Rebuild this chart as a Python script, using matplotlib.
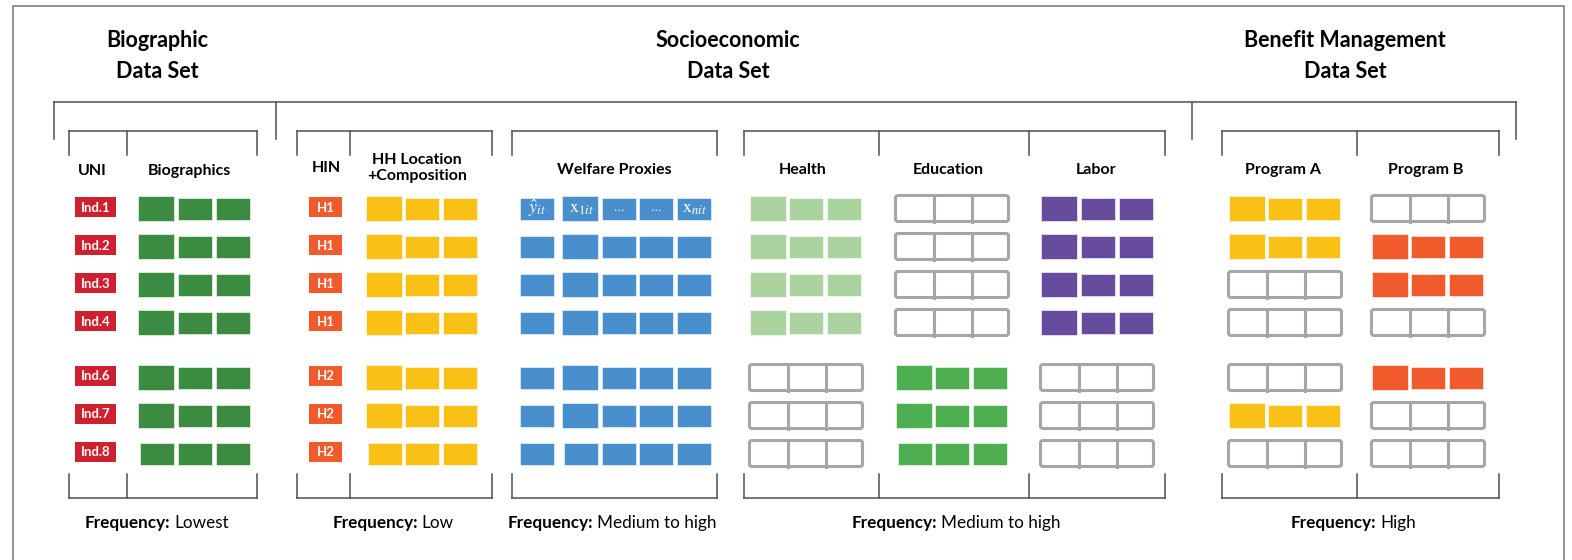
import matplotlib
matplotlib.use('Agg')
import matplotlib.pyplot as plt
from matplotlib.patches import Rectangle, FancyBboxPatch

plt.rcParams['mathtext.fontset'] = 'stix'
FONT = 'Lato'

# ---------------- data ----------------
dataset_titles = ['Biographic\nData Set', 'Socioeconomic\nData Set', 'Benefit Management\nData Set']
uni_labels = ['Ind.1', 'Ind.2', 'Ind.3', 'Ind.4', 'Ind.6', 'Ind.7', 'Ind.8']
hin_labels = ['H1', 'H1', 'H1', 'H1', 'H2', 'H2', 'H2']
column_headers = ['UNI', 'Biographics', 'HIN', 'HH Location\n+Composition', 'Welfare Proxies',
                  'Health', 'Education', 'Labor', 'Program A', 'Program B']
frequency_labels = ['Lowest', 'Low', 'Medium to high', 'Medium to high', 'High']
welfare_cell_labels = [r'$\hat{y}_{it}$', r'$\mathrm{x}_{1\mathit{it}}$', '...', '...', r'$\mathrm{x}_{\mathit{nit}}$']

# 1 = record present (filled cells), 0 = no record (empty outline)
biographics_filled = [1, 1, 1, 1, 1, 1, 1]
hh_filled = [1, 1, 1, 1, 1, 1, 1]
welfare_filled = [1, 1, 1, 1, 1, 1, 1]
health_filled = [1, 1, 1, 1, 0, 0, 0]
education_filled = [0, 0, 0, 0, 1, 1, 1]
labor_filled = [1, 1, 1, 1, 0, 0, 0]
program_a_filled = [1, 1, 0, 0, 0, 1, 0]
program_b_filled = [0, 1, 1, 0, 1, 0, 0]

# ---------------- styles ----------------
C_RED = '#cf2030'
C_ORANGE = '#f15a2b'
C_DKGREEN = '#3b8c41'
C_YELLOW = '#f9c116'
C_BLUE = '#4a8fcd'
C_LTGREEN = '#aad39f'
C_GREEN = '#4daf50'
C_PURPLE = '#674b9d'
C_EMPTY = '#a6a6a6'
C_LINE = '#505050'

fig = plt.figure(figsize=(15.72, 5.6), dpi=100)
ax = fig.add_axes([0, 0, 1, 1])
ax.set_xlim(0, 1572)
ax.set_ylim(560, 0)
ax.axis('off')

# outer frame (bottom edge runs off the picture)
ax.plot([13, 13, 1564, 1564], [600, 6, 6, 600], color='#8a8a8a', lw=1.3, solid_joinstyle='miter')

# row positions
row_y = []
y = 207
for i in range(len(uni_labels)):
    row_y.append(y)
    y += 38 if i != 3 else 55

# titles
title_x = [157, 728, 1345]
for t, x in zip(dataset_titles, title_x):
    ax.text(x, 56, t, ha='center', va='center', fontsize=15.5, fontweight='bold',
            family=FONT, linespacing=1.6, color='black')

# top-level bracket
ax.plot([54, 1516], [102, 102], color=C_LINE, lw=1.1)
for x in [54, 276, 1192, 1516]:
    ax.plot([x, x], [102, 139], color=C_LINE, lw=1.1)

# second-level brackets (top and bottom)
groups = [[69, 127, 257], [297, 350, 492], [512, 717], [744, 879, 1029, 1165], [1222, 1357, 1499]]
for g in groups:
    ax.plot([g[0], g[-1]], [131, 131], color=C_LINE, lw=1.1)
    ax.plot([g[0], g[-1]], [498, 498], color=C_LINE, lw=1.1)
    for x in g:
        ax.plot([x, x], [131, 155], color=C_LINE, lw=1.1)
        ax.plot([x, x], [474, 498], color=C_LINE, lw=1.1)

# column headers
header_pos = [(92, 171), (189, 171), (326, 168), (417, 168), (614, 170),
              (803, 170), (948, 170), (1096, 170), (1283, 170), (1426, 170)]
for h, (x, yy) in zip(column_headers, header_pos):
    ax.text(x, yy, h, ha='center', va='center', fontsize=11.5, fontweight='bold',
            family=FONT, linespacing=1.25)

# ID boxes
for lab, yy in zip(uni_labels, row_y):
    ax.add_patch(Rectangle((75, yy - 10), 41, 20, facecolor=C_RED, edgecolor='none'))
    ax.text(95.5, yy + 0.5, lab, ha='center', va='center', color='white', fontsize=9.5,
            fontweight='bold', family=FONT)
for lab, yy in zip(hin_labels, row_y):
    ax.add_patch(Rectangle((309, yy - 10), 33, 20, facecolor=C_ORANGE, edgecolor='none'))
    ax.text(325.5, yy + 0.5, lab, ha='center', va='center', color='white', fontsize=9.5,
            fontweight='bold', family=FONT)


def draw_filled(xs, yc, color, big_idx, big):
    for i, x in enumerate(xs):
        if big and i == big_idx:
            ax.add_patch(Rectangle((x - 2, yc - 12.5), 36, 25, facecolor=color,
                                   edgecolor='white', lw=0.4))
        else:
            ax.add_patch(Rectangle((x, yc - 11), 34, 22, facecolor=color,
                                   edgecolor='white', lw=0.4))


def draw_empty(x0, yc):
    ax.add_patch(FancyBboxPatch((x0 - 2.5, yc - 13), 113, 26,
                                boxstyle='round,pad=0,rounding_size=2.5',
                                facecolor='white', edgecolor=C_EMPTY, lw=2.2))
    for dx in (36, 74):
        ax.plot([x0 + dx, x0 + dx], [yc - 13, yc + 13], color=C_EMPTY, lw=2.2)


blocks = [
    (biographics_filled, C_DKGREEN, 140, [0, 38, 76], 0),
    (hh_filled, C_YELLOW, 368, [0, 37, 75], 0),
    (welfare_filled, C_BLUE, 520, [0, 44, 82, 119, 157], 1),
    (health_filled, C_LTGREEN, 752, [0, 37, 75], 0),
    (education_filled, C_GREEN, 898, [0, 37, 75], 0),
    (labor_filled, C_PURPLE, 1043, [0, 38, 76], 0),
    (program_a_filled, C_YELLOW, 1231, [0, 37, 75], 0),
    (program_b_filled, C_ORANGE, 1374, [0, 37, 75], 0),
]
n = len(uni_labels)
for pattern, color, x0, offs, bi in blocks:
    for r, (flag, yy) in enumerate(zip(pattern, row_y)):
        yc = yy + 1.5
        if flag:
            draw_filled([x0 + o for o in offs], yc, color, bi, r < n - 1)
        else:
            draw_empty(x0, yc)

# symbols in the first welfare row
w_offs = [0, 44, 82, 119, 157]
for lab, o in zip(welfare_cell_labels, w_offs):
    ax.text(520 + o + 17, row_y[0] + 1, lab, ha='center', va='center', color='white',
            fontsize=13 if lab != '...' else 8, family='DejaVu Serif')

# frequency captions
freq_x = [157, 393, 612, 956, 1353]
fig.canvas.draw()
renderer = fig.canvas.get_renderer()
for lab, cx in zip(frequency_labels, freq_x):
    t1 = ax.text(0, 523, 'Frequency:', ha='left', va='center', fontsize=12.3,
                 fontweight='bold', family=FONT)
    t2 = ax.text(0, 523, lab, ha='left', va='center', fontsize=12.3, family=FONT)
    w1 = t1.get_window_extent(renderer).width
    w2 = t2.get_window_extent(renderer).width
    gap = 4
    left = cx - (w1 + gap + w2) / 2
    t1.set_x(left)
    t2.set_x(left + w1 + gap)

fig.savefig('out.png', dpi=100)
